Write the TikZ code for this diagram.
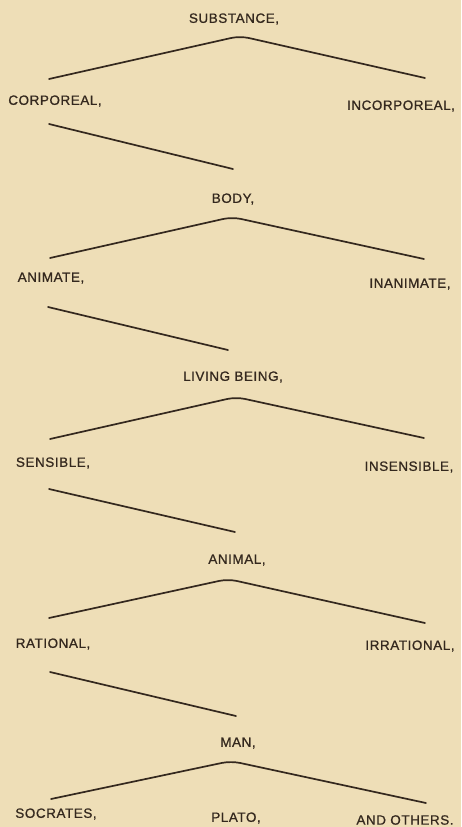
\documentclass[tikz,border=0pt]{standalone}
\usepackage{fontspec}
\newfontfamily\treefont[LetterSpace=4,FakeBold=0.8]{Liberation Sans}
\definecolor{paper}{RGB}{238,222,183}
\definecolor{ink}{RGB}{52,40,30}
\tikzset{
  term/.style={font=\treefont\fontsize{13.5}{16}\selectfont, text=ink, inner sep=0pt},
  branch/.style={draw=ink, line width=1.7pt, rounded corners=9pt, line cap=round},
}
\begin{document}
\begin{tikzpicture}[x=1pt, y=-1pt]
  \fill[paper] (0,0) rectangle (461,827);
  \useasboundingbox (0,0) rectangle (461,827);

  % Genera
  \node[term] (substance) at (234,19) {SUBSTANCE,};
  \node[term] (body) at (233,199) {BODY,};
  \node[term] (living) at (233,377) {LIVING BEING,};
  \node[term] (animal) at (237,560) {ANIMAL,};
  \node[term] (man) at (238,743) {MAN,};

  % Differences
  \node[term] (corporeal) at (55,101) {CORPOREAL,};
  \node[term] (incorporeal) at (401,106) {INCORPOREAL,};
  \node[term] (animate) at (51,278) {ANIMATE,};
  \node[term] (inanimate) at (410,284) {INANIMATE,};
  \node[term] (sensible) at (53,463) {SENSIBLE,};
  \node[term] (insensible) at (409,467) {INSENSIBLE,};
  \node[term] (rational) at (53,644) {RATIONAL,};
  \node[term] (irrational) at (410,646) {IRRATIONAL,};

  % Individuals
  \node[term] (socrates) at (56,814) {SOCRATES,};
  \node[term] (plato) at (236,818) {PLATO,};
  \node[term] (others) at (405,820) {AND OTHERS.};

  % Branch points
  \coordinate (substance-l) at (49,79);
  \coordinate (substance-p) at (240,36);
  \coordinate (substance-r) at (425,78);
  \coordinate (corporeal-a) at (49,124);
  \coordinate (corporeal-b) at (233,169);
  \coordinate (body-l) at (50,258);
  \coordinate (body-p) at (232,217);
  \coordinate (body-r) at (424,259);
  \coordinate (animate-a) at (48,307);
  \coordinate (animate-b) at (228,350);
  \coordinate (living-l) at (50,439);
  \coordinate (living-p) at (236,397);
  \coordinate (living-r) at (424,438);
  \coordinate (sensible-a) at (49,489);
  \coordinate (sensible-b) at (235,532);
  \coordinate (animal-l) at (49,618);
  \coordinate (animal-p) at (228,579);
  \coordinate (animal-r) at (425,623);
  \coordinate (rational-a) at (50,672);
  \coordinate (rational-b) at (236,716);
  \coordinate (man-l) at (51,799);
  \coordinate (man-p) at (231,761);
  \coordinate (man-r) at (426,803);

  % Branches
  \draw[branch] (substance-l) -- (substance-p) -- (substance-r);
  \draw[branch] (corporeal-a) -- (corporeal-b);
  \draw[branch] (body-l) -- (body-p) -- (body-r);
  \draw[branch] (animate-a) -- (animate-b);
  \draw[branch] (living-l) -- (living-p) -- (living-r);
  \draw[branch] (sensible-a) -- (sensible-b);
  \draw[branch] (animal-l) -- (animal-p) -- (animal-r);
  \draw[branch] (rational-a) -- (rational-b);
  \draw[branch] (man-l) -- (man-p) -- (man-r);
\end{tikzpicture}
\end{document}
